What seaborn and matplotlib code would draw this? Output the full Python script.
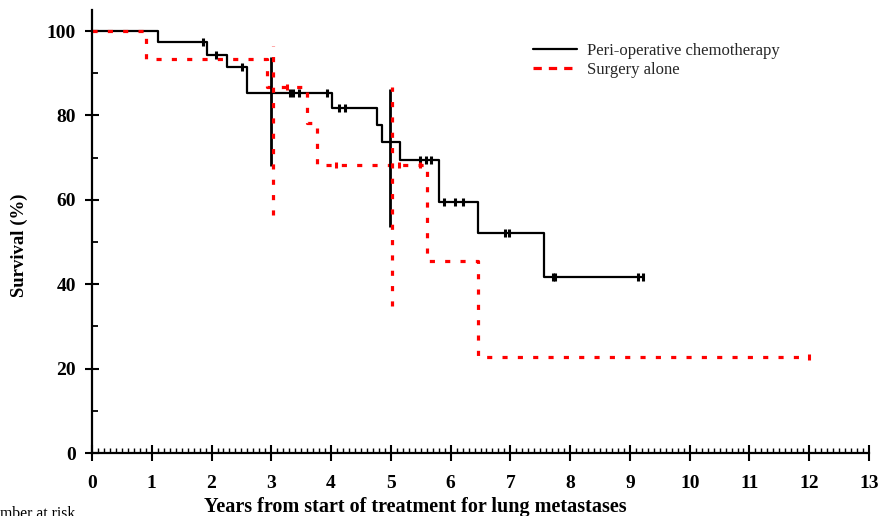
import numpy as np
import pandas as pd
import matplotlib
matplotlib.use("Agg")
import matplotlib.pyplot as plt
from matplotlib.ticker import MultipleLocator
from matplotlib.lines import Line2D
import seaborn as sns

# ---- data ----
chemo_t = [0, 1.10, 1.92, 2.26, 2.60, 4.02, 4.76, 4.86, 5.16, 5.81, 6.45, 7.57, 9.22]
chemo_s = [100, 97.3, 94.4, 91.4, 85.4, 81.7, 77.7, 73.7, 69.5, 59.5, 52.1, 41.8, 41.8]
chemo_cens = [1.86, 2.07, 2.51, 3.32, 3.37, 3.46, 3.93, 4.14, 4.23, 5.49, 5.59, 5.67,
              5.89, 6.07, 6.20, 6.91, 6.97, 7.71, 7.75, 9.13, 9.22]
chemo_ci_t = [2.99, 4.99]
chemo_ci_lo = [68.0, 53.5]
chemo_ci_hi = [93.9, 86.2]

surg_t = [0, 0.91, 2.93, 3.59, 3.77, 5.61, 6.45, 12.0]
surg_s = [100, 93.3, 86.7, 78.3, 68.2, 45.4, 22.7, 22.7]
surg_cens = [3.26, 4.08, 5.13, 5.49, 12.0]
surg_ci_t = [3.03, 5.02]
surg_ci_lo = [56.4, 34.8]
surg_ci_hi = [96.5, 86.8]

labels = ["Peri-operative chemotherapy", "Surgery alone"]
x_ticks = list(range(0, 14))
y_ticks = [0, 20, 40, 60, 80, 100]


def step_at(times, surv, q):
    times = np.asarray(times)
    surv = np.asarray(surv)
    idx = np.searchsorted(times, q, side="right") - 1
    return surv[idx]


sns.set_style("white")
plt.rcParams["font.family"] = ["Liberation Serif", "DejaVu Serif"]

fig = plt.figure(figsize=(8.79, 5.16), dpi=100)
ax = fig.add_axes([92 / 879, 63 / 516, 777 / 879, 443 / 516])

df_c = pd.DataFrame({"t": chemo_t, "s": chemo_s})
df_s = pd.DataFrame({"t": surg_t, "s": surg_s})

red_dash = (1.6, 3.2)

sns.lineplot(data=df_c, x="t", y="s", ax=ax, drawstyle="steps-post", estimator=None,
             color="black", lw=1.6)
sns.lineplot(data=df_s, x="t", y="s", ax=ax, drawstyle="steps-post", estimator=None,
             color="#ff0000", lw=2.3)
ax.lines[-1].set_dashes(red_dash)

# CI bars at 3 and 5 years
ax.vlines(chemo_ci_t, chemo_ci_lo, chemo_ci_hi, color="black", lw=2.0)
ax.vlines(surg_ci_t, surg_ci_lo, surg_ci_hi, color="#ff0000", lw=2.3,
          linestyles=[(0, red_dash)])

# censor marks
dfc = pd.DataFrame({"t": chemo_cens, "s": step_at(chemo_t, chemo_s, chemo_cens)})
dfs = pd.DataFrame({"t": surg_cens, "s": step_at(surg_t, surg_s, surg_cens)})
sns.scatterplot(data=dfc, x="t", y="s", ax=ax, marker="|", s=40, color="black",
                linewidth=2.2, legend=False)
sns.scatterplot(data=dfs, x="t", y="s", ax=ax, marker="|", s=25, color="#ff0000",
                linewidth=2.2, legend=False)

ax.set_xlim(0, 13)
ax.set_ylim(0, 105)
ax.set_xticks(x_ticks)
ax.set_yticks(y_ticks)
ax.xaxis.set_minor_locator(MultipleLocator(0.1))
ax.yaxis.set_minor_locator(MultipleLocator(10))

for side in ["top", "right"]:
    ax.spines[side].set_visible(False)
for side in ["left", "bottom"]:
    ax.spines[side].set_color("black")
    ax.spines[side].set_linewidth(1.6)

ax.tick_params(axis="both", which="both", bottom=True, left=True, top=False, right=False)
ax.tick_params(axis="x", which="major", direction="inout", length=11, width=1.5,
               pad=10.5, labelsize=14, colors="black")
ax.tick_params(axis="x", which="minor", direction="in", length=3.5, width=1.0, colors="black")
ax.tick_params(axis="y", which="major", direction="inout", length=10, width=1.5,
               pad=6.5, labelsize=14, colors="black")
ax.tick_params(axis="y", which="minor", direction="in", length=4, width=1.3, colors="black")
for lab in ax.get_xticklabels() + ax.get_yticklabels():
    lab.set_fontweight("bold")

ax.set_xlabel("Years from start of treatment for lung metastases", fontsize=14.5,
              fontweight="bold", color="black")
ax.set_ylabel("Survival (%)", fontsize=13.5, fontweight="bold", color="black")
ax.xaxis.set_label_coords(0.416, -0.099)
ax.yaxis.set_label_coords(-0.083, 0.47)

handles = [Line2D([], [], color="black", lw=1.6),
           Line2D([], [], color="#ff0000", lw=2.3, dashes=(2.6, 2.2))]
leg = ax.legend(handles, labels, loc="upper left", bbox_to_anchor=(0.568, 0.925),
                frameon=False, fontsize=12, handlelength=2.6, handletextpad=0.6,
                borderpad=0, borderaxespad=0, labelspacing=0.15)

fig.text(-19 / 879, -2 / 516, "Number at risk", fontsize=11.3, va="baseline", ha="left",
         color="black")

fig.savefig("out.png", dpi=100)
